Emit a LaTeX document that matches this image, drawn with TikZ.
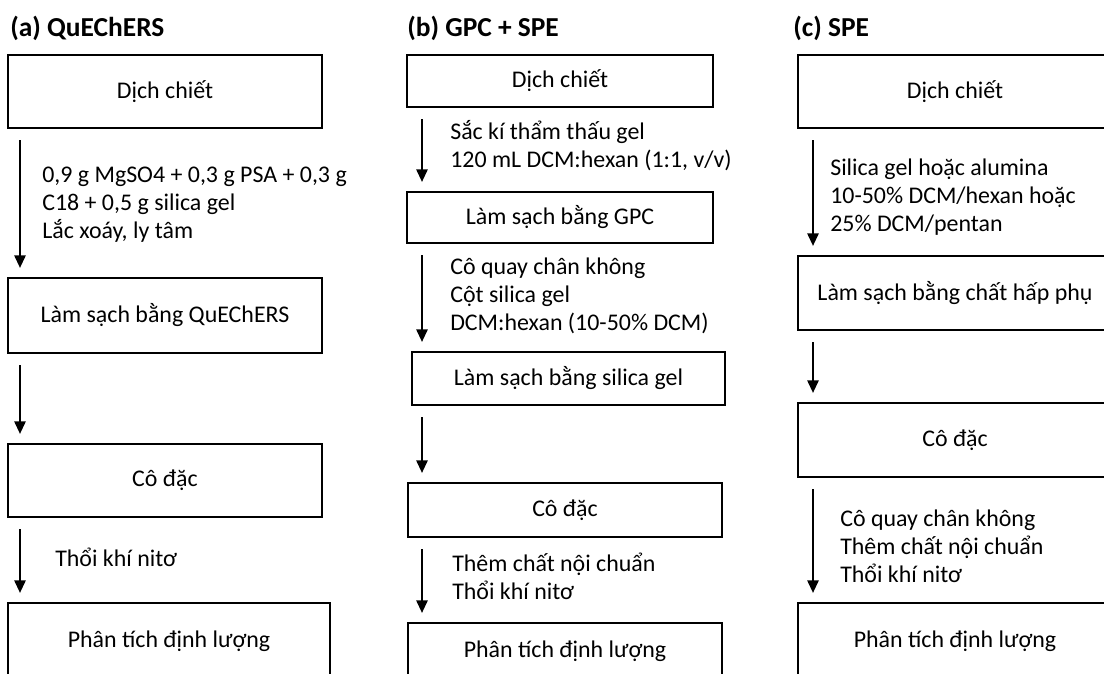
\documentclass[tikz,border=0pt]{standalone}
\usepackage{fontspec}
\setmainfont{Carlito}
\usetikzlibrary{arrows.meta}

\begin{document}
\begin{tikzpicture}[x=0.025cm,y=-0.025cm,
    every node/.style={font=\fontsize{17}{20}\selectfont},
    title/.style={anchor=west,inner sep=0pt,font=\fontsize{19.5}{23}\selectfont\bfseries},
    box/.style={draw,line width=1.2pt,minimum width=7.85cm},
    lbl/.style={anchor=west,align=left,inner sep=0pt},
    flow/.style={line width=1.5pt,-{Triangle[length=9pt,width=8pt]},shorten <=0.28cm,shorten >=0.23cm}]
    % Page frame
    \path[use as bounding box,clip] (0,0) rectangle (1104,673);

    % Arrow columns
    \coordinate (xa) at (20,0);
    \coordinate (xb) at (422,0);
    \coordinate (xc) at (813,0);

    % (a) QuEChERS
    \node[title] (ta) at (10,28) {(a) QuEChERS};
    \node[box,minimum height=1.825cm] (a1) at (165,91.5) {Dịch chiết};
    \node[box,minimum height=1.875cm] (a2) at (165,315.5) {Làm sạch bằng QuEChERS};
    \node[box,minimum height=1.825cm] (a3) at (165,480.5) {Cô đặc};
    \node[box,minimum height=1.9cm,minimum width=8.05cm] (a4) at (169,641) {Phân tích định lượng};
    \node[lbl] (la1) at (42,205) {0,9 g MgSO4 + 0,3 g PSA + 0,3 g\\C18 + 0,5 g silica gel\\Lắc xoáy, ly tâm};
    \node[lbl] (la3) at (55,557) {Thổi khí nitơ};
    \draw[flow] (a1.south -| xa) -- (a2.north -| xa);
    \draw[flow] (a2.south -| xa) -- (a3.north -| xa);
    \draw[flow] (a3.south -| xa) -- (a4.north -| xa);

    % (b) GPC + SPE
    \node[title] (tb) at (407,28) {(b) GPC + SPE};
    \node[box,minimum height=1.3cm,minimum width=7.65cm] (b1) at (560,81) {Dịch chiết};
    \node[box,minimum height=1.275cm,minimum width=7.65cm] (b2) at (560,217.5) {Làm sạch bằng GPC};
    \node[box,minimum height=1.325cm,minimum width=7.825cm] (b3) at (568.5,378.5) {Làm sạch bằng silica gel};
    \node[box,minimum height=1.35cm] (b4) at (565,510) {Cô đặc};
    \node[box,minimum height=1.4cm] (b5) at (565,651) {Phân tích định lượng};
    \node[lbl] (lb1) at (450,146) {Sắc kí thẩm thấu gel\\120 mL DCM:hexan (1:1, v/v)};
    \node[lbl] (lb2) at (450,296) {Cô quay chân không\\Cột silica gel\\DCM:hexan (10-50\% DCM)};
    \node[lbl] (lb4) at (452,576) {Thêm chất nội chuẩn\\Thổi khí nitơ};
    \draw[flow] (b1.south -| xb) -- (b2.north -| xb);
    \draw[flow] (b2.south -| xb) -- (b3.north -| xb);
    \draw[flow] (b3.south -| xb) -- (b4.north -| xb);
    \draw[flow] (b4.south -| xb) -- (b5.north -| xb);

    % (c) SPE
    \node[title] (tc) at (793,28) {(c) SPE};
    \node[box,minimum height=1.825cm] (c1) at (955,91.5) {Dịch chiết};
    \node[box,minimum height=1.85cm] (c2) at (955,293) {Làm sạch bằng chất hấp phụ};
    \node[box,minimum height=1.85cm] (c3) at (955,440) {Cô đặc};
    \node[box,minimum height=1.9cm] (c4) at (955,641) {Phân tích định lượng};
    \node[lbl] (lc1) at (830,197) {Silica gel hoặc alumina\\10-50\% DCM/hexan hoặc\\25\% DCM/pentan};
    \node[lbl] (lc3) at (840,546) {Cô quay chân không\\Thêm chất nội chuẩn\\Thổi khí nitơ};
    \draw[flow] (c1.south -| xc) -- (c2.north -| xc);
    \draw[flow] (c2.south -| xc) -- (c3.north -| xc);
    \draw[flow] (c3.south -| xc) -- (c4.north -| xc);
\end{tikzpicture}
\end{document}
